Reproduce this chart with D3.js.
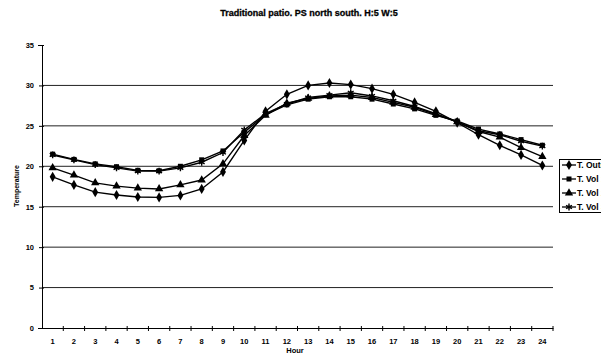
<!DOCTYPE html>
<html><head><meta charset="utf-8">
<script src="https://cdn.jsdelivr.net/npm/d3@7"></script>
<style>body{margin:0;background:#fff}svg{display:block}text{font-family:"Liberation Sans",Arial,sans-serif;font-weight:bold;fill:#000}</style>
</head><body>
<script>
const hours = d3.range(1, 25).map(String);
const yTicks = [0, 5, 10, 15, 20, 25, 30, 35];
const seriesNames = ["T. Outside", "T. Vol 1", "T. Vol 2", "T. Vol 3"];
const tOutside = [18.7,17.7,16.8,16.45,16.2,16.15,16.4,17.2,19.3,23.2,26.8,28.9,30.0,30.3,30.1,29.6,28.9,27.9,26.8,25.4,23.9,22.6,21.4,20.1];
const tVol1 = [21.5,20.85,20.3,19.95,19.5,19.45,20.0,20.8,21.9,24.2,26.4,27.6,28.3,28.6,28.6,28.3,27.7,27.1,26.3,25.6,24.6,24.0,23.3,22.6];
const tVol2 = [19.8,18.9,17.95,17.55,17.3,17.2,17.7,18.3,20.3,23.8,26.3,27.8,28.4,28.7,28.8,28.5,27.9,27.3,26.4,25.5,24.3,23.6,22.3,21.2];
const tVol3 = [21.4,20.8,20.2,19.8,19.4,19.4,19.8,20.5,21.7,24.5,26.5,27.7,28.5,28.8,29.1,28.7,28.1,27.4,26.5,25.5,24.4,23.9,23.1,22.5];
const allSeries = [tOutside, tVol1, tVol2, tVol3];
const markers = ["diamond", "square", "triangle", "star"];

const W = 601, H = 358;
const pL = 42, pR = 553, pT = 45, pB = 328;
const svg = d3.select("body").append("svg").attr("width", W).attr("height", H);

const x = d3.scaleBand().domain(hours).range([pL, pR]);
const y = d3.scaleLinear().domain([0, 35]).range([pB, pT]);

svg.append("text").attr("x", 309).attr("y", 16).attr("text-anchor", "middle")
  .style("font-size", "9px").attr("stroke", "#000").attr("stroke-width", 0.3)
  .text("Traditional patio. PS north south. H:5 W:5");

// gridlines
svg.append("g").selectAll("line").data(yTicks.filter(v => v > 0 && v < 35)).join("line")
  .attr("x1", pL).attr("x2", pR).attr("y1", d => y(d)).attr("y2", d => y(d))
  .attr("stroke", "#222").attr("stroke-width", 1);

// y axis
const yAxis = svg.append("g").attr("transform", `translate(${pL},0)`)
  .call(d3.axisLeft(y).tickValues(yTicks).tickSize(4).tickPadding(4));
yAxis.select(".domain").attr("stroke", "#000");
yAxis.selectAll("text").style("font-size", "7.5px").style("font-family", "Liberation Sans, Arial").style("font-weight", "bold");
yAxis.selectAll(".tick line").attr("x2", 2).attr("x1", -3);

// x axis
const xAxis = svg.append("g").attr("transform", `translate(0,${pB})`)
  .call(d3.axisBottom(x).tickSize(0).tickPadding(11));
xAxis.select(".domain").attr("stroke", "#000");
xAxis.selectAll("text").style("font-size", "7.5px").style("font-family", "Liberation Sans, Arial").style("font-weight", "bold");
svg.append("g").selectAll("line").data(hours).join("line")
  .attr("x1", d => x(d) + x.bandwidth()).attr("x2", d => x(d) + x.bandwidth())
  .attr("y1", pB - 2).attr("y2", pB + 3).attr("stroke", "#000");

svg.append("text").attr("x", 295).attr("y", 353).attr("text-anchor", "middle")
  .style("font-size", "7.5px").text("Hour");
svg.append("text").attr("transform", "translate(19,186) rotate(-90)").attr("text-anchor", "middle")
  .style("font-size", "7px").text("Temperature");

const symType = {diamond: d3.symbolDiamond, square: d3.symbolSquare, triangle: d3.symbolTriangle, star: d3.symbolAsterisk};
function drawMarker(g, type, cx, cy) {
  if (type === "star") {
    g.append("path").attr("transform", `translate(${cx},${cy})`)
      .attr("d", d3.symbol(d3.symbolAsterisk, 32)()).attr("stroke", "#000").attr("stroke-width", 1.4).attr("fill", "none");
  } else {
    const size = type === "square" ? 25 : 30;
    g.append("path").attr("transform", `translate(${cx},${cy})`)
      .attr("d", d3.symbol(symType[type], size)()).attr("fill", "#000");
  }
}

const line = d3.line().x((d, i) => x(hours[i]) + x.bandwidth() / 2).y(d => y(d));
allSeries.forEach((s, k) => {
  const g = svg.append("g");
  g.append("path").attr("d", line(s)).attr("fill", "none").attr("stroke", "#000").attr("stroke-width", 1.4);
  s.forEach((v, i) => drawMarker(g, markers[k], x(hours[i]) + x.bandwidth() / 2, y(v)));
});

// legend (cut by the right edge, as in the reference)
const lg = svg.append("g");
lg.append("rect").attr("x", 559.5).attr("y", 159.5).attr("width", 60).attr("height", 53)
  .attr("fill", "#fff").attr("stroke", "#000");
seriesNames.forEach((n, k) => {
  const ly = 165 + k * 14;
  lg.append("line").attr("x1", 562).attr("x2", 576).attr("y1", ly).attr("y2", ly).attr("stroke", "#000").attr("stroke-width", 1.3);
  drawMarker(lg, markers[k], 569, ly);
  lg.append("text").attr("x", 577).attr("y", ly + 3).style("font-size", "8.5px").text(n);
});
</script>
</body></html>
